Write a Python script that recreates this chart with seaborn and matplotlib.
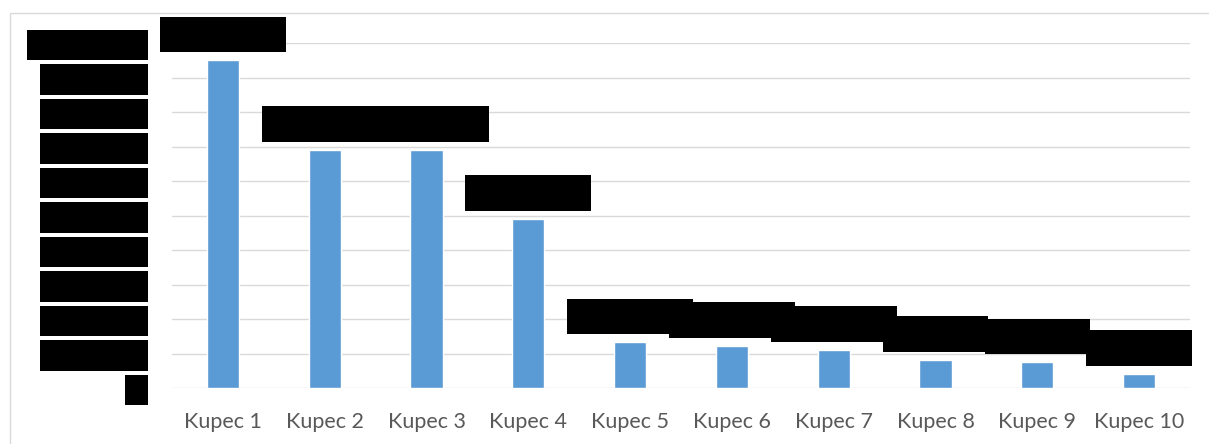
import matplotlib
matplotlib.use('Agg')
import matplotlib.pyplot as plt
from matplotlib.patches import Rectangle
import seaborn as sns

# Данные графика
buyers = ['Kupec 1', 'Kupec 2', 'Kupec 3', 'Kupec 4', 'Kupec 5',
          'Kupec 6', 'Kupec 7', 'Kupec 8', 'Kupec 9', 'Kupec 10']
values = [9500000, 6900000, 6900000, 4900000, 1330000,
          1220000, 1100000, 810000, 750000, 410000]
y_ticks = [0, 1000000, 2000000, 3000000, 4000000, 5000000,
           6000000, 7000000, 8000000, 9000000, 10000000]


def fmt(v):
    """Число с пробелами между тысячами"""
    return f'{v:,}'.replace(',', ' ')


sns.set_theme(style='white')
plt.rcParams['font.family'] = ['Lato', 'DejaVu Sans']

fig = plt.figure(figsize=(12.09, 4.44), dpi=100)
ax = fig.add_axes([172 / 1209, 1 - 388 / 444, 1018 / 1209, 345 / 444])

sns.barplot(x=buyers, y=values, color='#5B9BD5', saturation=1,
            width=0.315, ax=ax)

ax.set_ylim(0, 10000000)
ax.set_xlim(-0.5, 9.5)
ax.set_yticks(y_ticks)
ax.set_yticklabels([fmt(t) for t in y_ticks])
ax.yaxis.grid(True, color='#d9d9d9', linewidth=1.0)
ax.set_axisbelow(True)
for s in ax.spines.values():
    s.set_visible(False)
ax.set_xlabel('')
ax.set_ylabel('')

ax.tick_params(axis='y', length=0, pad=21, labelsize=15.5, labelcolor='black')
ax.tick_params(axis='x', length=0, pad=17, labelsize=15.5, labelcolor='#595959')
# закрашенные подписи оси (как на исходнике)
for lbl in ax.get_yticklabels():
    lbl.set_bbox(dict(facecolor='black', edgecolor='none', pad=3.8))

# подписи значений над столбцами
ax.bar_label(ax.containers[0], labels=[fmt(v) for v in values],
             padding=11, fontsize=17.5, color='black',
             bbox=dict(facecolor='black', edgecolor='none', pad=5.2))

# рамка области диаграммы
fig.add_artist(Rectangle((10 / 1209, -0.1), 1.2, 1.1 - 13 / 444,
                         transform=fig.transFigure, fill=False,
                         edgecolor='#d9d9d9', linewidth=1.0))

fig.savefig('out.png', dpi=100)
